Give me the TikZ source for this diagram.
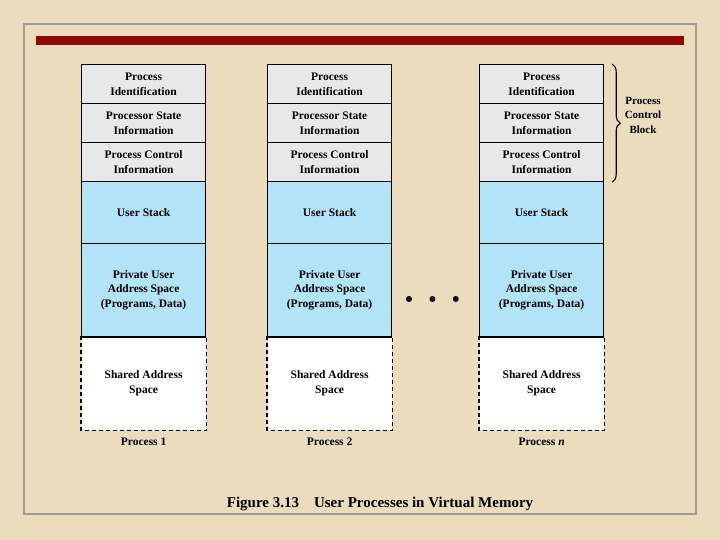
\documentclass[tikz,border=0pt]{standalone}
\usepackage{fontspec}
\setmainfont{Liberation Serif}
\usetikzlibrary{positioning, decorations.pathreplacing}
\definecolor{paperc}{HTML}{EADCBD}
\definecolor{barc}{HTML}{8E0A0A}
\definecolor{framec}{HTML}{A09C98}
\definecolor{pcbc}{HTML}{E8E8E8}
\definecolor{userc}{HTML}{B3E3F6}

\begin{document}
\begin{tikzpicture}[x=1pt, y=-1pt, font=\fontsize{11.5}{14.5}\selectfont\bfseries,
          cell/.style={rectangle, draw=black, line width=1.2pt, minimum width=124pt, inner sep=0pt, align=center, anchor=north west},
          pcb/.style={cell, fill=pcbc},
          usr/.style={cell, fill=userc},
          shr/.style={cell, draw=none, fill=white},
          dotn/.style={circle, fill=black, minimum size=6pt, inner sep=0pt}]
        \useasboundingbox (0,0) rectangle (720,540);
        \fill[paperc] (0,0) rectangle (720,540);
        \draw[framec, line width=1.5pt] (24,24) rectangle (696,514);
        \fill[barc] (36,36) rectangle (684,45);
        \foreach \c/\x/\lab in {1/81/Process 1, 2/267/Process 2, 3/479/Process \textit{n}}{
          \node[pcb, minimum height=39pt] (id\c) at (\x, 64) {Process\\Identification};
          \node[pcb, minimum height=39pt] (st\c) at (\x, 103) {Processor State\\Information};
          \node[pcb, minimum height=39pt] (ctl\c) at (\x, 142) {Process Control\\Information};
          \node[usr, minimum height=62pt] (stk\c) at (\x, 181) {User Stack};
          \node[usr, minimum height=93pt] (prv\c) at (\x, 243) {Private User\\Address Space\\(Programs, Data)};
          \node[shr, minimum height=93pt] (sh\c) at (\x, 336) {Shared Address\\Space};
          \draw[dashed, line width=1.4pt, dash pattern=on 4pt off 3pt] (sh\c.north west) -- (sh\c.south west) -- (sh\c.south east) -- (sh\c.north east);
          \draw[line width=1.2pt] (prv\c.south west) -- (prv\c.south east);
          \node[below=4pt of sh\c] (lab\c) {\lab};
        }
        \node[dotn] (d1) at (409, 299) {};
        \node[dotn, right=17pt of d1] (d2) {};
        \node[dotn, right=17pt of d2] (d3) {};
        \draw[decorate, decoration={brace, amplitude=8pt}, line width=1.1pt]
          ([xshift=8pt]id3.north east) -- ([xshift=8pt]ctl3.south east);
        \node[align=center, font=\fontsize{11}{14.5}\selectfont\bfseries] (pcblab) at (643, 115) {Process\\Control\\Block};
        \node[font=\fontsize{15}{17}\selectfont\bfseries] (cap) at (380, 504) {Figure 3.13\quad User Processes in Virtual Memory};
      \end{tikzpicture}
\end{document}
